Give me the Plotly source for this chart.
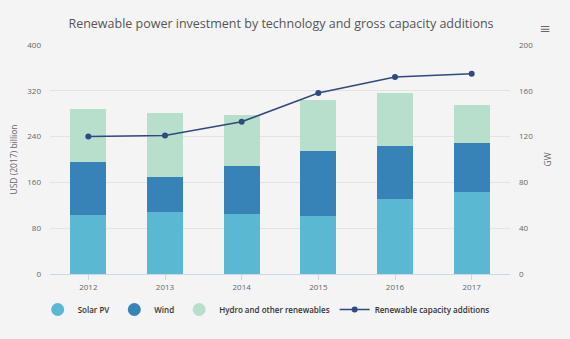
import plotly.graph_objects as go

years = ["2012", "2013", "2014", "2015", "2016", "2017"]
solar_pv = [103, 108, 104, 102, 131, 143]
wind = [92, 62, 84, 113, 92, 85]
hydro_other = [94, 111, 89, 89, 94, 67]
capacity_gw = [120, 121, 133, 158, 172, 175]

c_solar = "#5bb8d2"
c_wind = "#3783b8"
c_hydro = "#b7dfcc"
c_line = "#2e4a7e"
bg = "#f4f4f4"
font = "Open Sans"

fig = go.Figure()
for name, vals, col in [("Solar PV", solar_pv, c_solar), ("Wind", wind, c_wind),
                        ("Hydro and other renewables", hydro_other, c_hydro)]:
    fig.add_trace(go.Bar(x=years, y=vals, name=name, marker=dict(color=col, line=dict(width=0)),
                         showlegend=False))
    fig.add_trace(go.Scatter(x=[None], y=[None], mode="markers", name=name,
                             marker=dict(symbol="circle", size=13, color=col)))

fig.add_trace(go.Scatter(x=years, y=capacity_gw, name="Renewable capacity additions",
                         yaxis="y2", mode="lines+markers",
                         line=dict(color=c_line, width=1.5),
                         marker=dict(size=6, color=c_line)))

fig.update_layout(
    width=570, height=339,
    paper_bgcolor=bg, plot_bgcolor=bg,
    barmode="stack", bargap=0.53,
    margin=dict(l=50, r=60, t=45, b=65, autoexpand=False),
    font=dict(family=font, color="#666"),
    title=dict(text="Renewable power investment by technology and gross capacity additions",
               x=0.493, xanchor="center", y=0.93, yanchor="middle",
               font=dict(size=12.5, color="#555", family=font)),
    xaxis=dict(tickfont=dict(size=8, color="#666"), showgrid=False, ticks="outside",
               ticklen=5, tickcolor="#ccd6eb", showline=True, linecolor="#ccd6eb",
               ticklabelstandoff=0),
    yaxis=dict(range=[0, 400], tickvals=[0, 80, 160, 240, 320, 400],
               tickfont=dict(size=8, color="#666"), gridcolor="#e3e3e3", zeroline=False,
               ticklabelstandoff=8,
               title=dict(text="USD (2017) billion", font=dict(size=8.5, color="#666"), standoff=8)),
    yaxis2=dict(range=[0, 200], tickvals=[0, 40, 80, 120, 160, 200], overlaying="y", side="right",
                tickfont=dict(size=8, color="#666"), showgrid=False, zeroline=False,
                ticklabelstandoff=8,
                title=dict(text="GW", font=dict(size=8.5, color="#666"), standoff=12)),
    legend=dict(orientation="h", x=0.47, xanchor="center", y=-0.155, yanchor="middle",
                traceorder="normal",
                font=dict(size=8, color="#333", family=font, weight=600),
                itemwidth=30, tracegroupgap=0, bgcolor="rgba(0,0,0,0)"),
    annotations=[dict(text="≡", x=1.076, y=1.074, xref="paper", yref="paper", showarrow=False,
                      xanchor="center", yanchor="middle",
                      font=dict(size=18, color="#666"))],
)
fig.write_html("out.html")
